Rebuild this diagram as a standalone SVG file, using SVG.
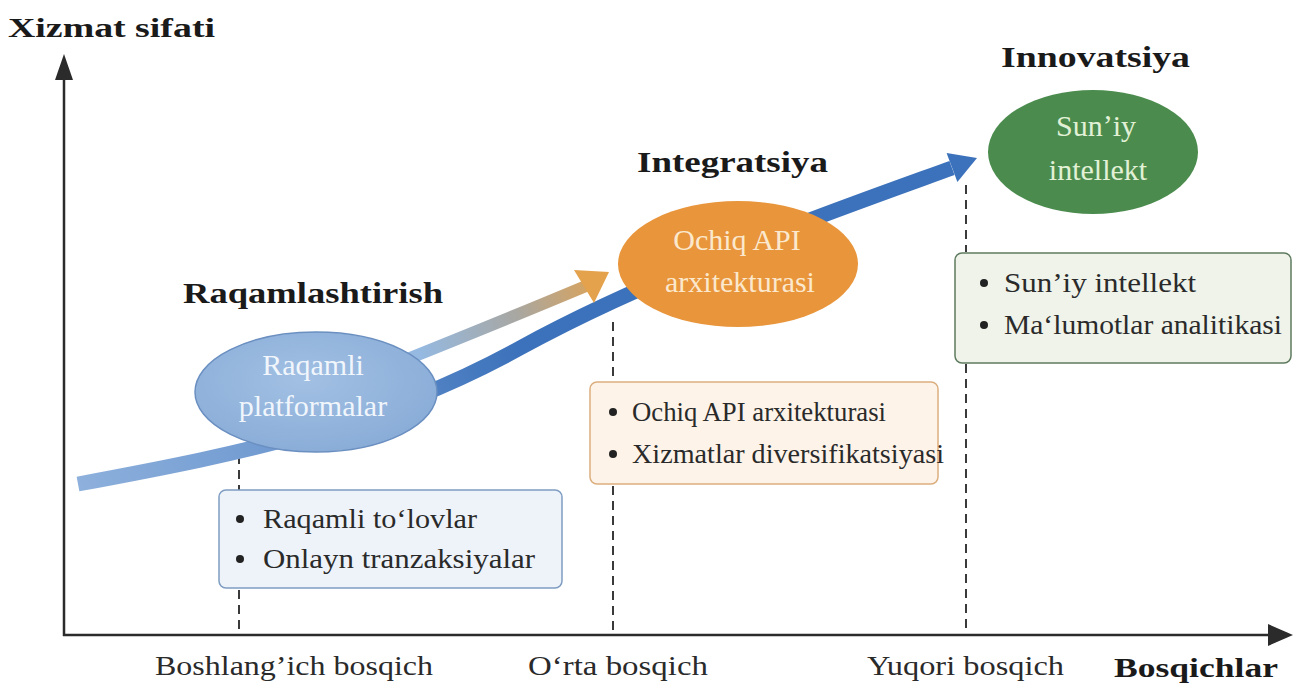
<svg xmlns="http://www.w3.org/2000/svg" width="1294" height="686" viewBox="0 0 1294 686">
  <style>
    .title { font-family: "Liberation Serif", "Times New Roman", Tinos, "Noto Serif", serif; font-weight: bold; fill: #1a1a1a; }
    .tick { font-family: "Liberation Serif", "Times New Roman", Tinos, "Noto Serif", serif; font-size: 28px; fill: #2a2a2a; }
    .item { font-family: "Liberation Serif", "Times New Roman", Tinos, "Noto Serif", serif; font-size: 27px; fill: #2a2a2a; }
    .etext { font-family: "Liberation Serif", "Times New Roman", Tinos, "Noto Serif", serif; font-size: 30px; text-anchor: middle; }
    .axis { stroke: #2b2b2b; stroke-width: 2.5; fill: none; }
    .dash { stroke: #3a3a3a; stroke-width: 2; stroke-dasharray: 9 6; fill: none; }
    .bullet { fill: #222; }
  </style>
  <defs>
    <linearGradient id="gMain" gradientUnits="userSpaceOnUse" x1="78" y1="480" x2="520" y2="350">
      <stop offset="0" stop-color="#8db0dc"/>
      <stop offset="0.45" stop-color="#6f99d0"/>
      <stop offset="1" stop-color="#3c72bb"/>
    </linearGradient>
    <linearGradient id="gSec" gradientUnits="userSpaceOnUse" x1="420" y1="350" x2="610" y2="272">
      <stop offset="0" stop-color="#95b9e0"/>
      <stop offset="0.5" stop-color="#a8a7a2"/>
      <stop offset="1" stop-color="#e4a24c"/>
    </linearGradient>
    <radialGradient id="gE1" cx="0.45" cy="0.4" r="0.7">
      <stop offset="0" stop-color="#a2c0e3"/>
      <stop offset="1" stop-color="#86aad6"/>
    </radialGradient>
  </defs>

  <rect width="1294" height="686" fill="#ffffff"/>

  <!-- axes -->
  <g id="axes">
    <line class="axis" x1="64" y1="72" x2="64" y2="636"/>
    <line class="axis" x1="63" y1="635" x2="1275" y2="635"/>
    <polygon points="64,54 55,80 73,80" fill="#2b2b2b"/>
    <polygon points="1293,635 1268,624 1268,646" fill="#2b2b2b"/>
    <text class="title" x="8" y="37" font-size="28" textLength="207" lengthAdjust="spacingAndGlyphs">Xizmat sifati</text>
    <text class="title" x="1114" y="677" font-size="28" textLength="164" lengthAdjust="spacingAndGlyphs">Bosqichlar</text>
    <text class="tick" x="155" y="675" textLength="278" lengthAdjust="spacingAndGlyphs">Boshlangʼich bosqich</text>
    <text class="tick" x="528" y="675" textLength="180" lengthAdjust="spacingAndGlyphs">Oʻrta bosqich</text>
    <text class="tick" x="867" y="675" textLength="197" lengthAdjust="spacingAndGlyphs">Yuqori bosqich</text>
  </g>

  <!-- connectors -->
  <g id="connectors">
    <line class="dash" x1="239" y1="455" x2="239" y2="490"/>
    <line class="dash" x1="239" y1="590" x2="239" y2="633"/>
    <line class="dash" x1="613" y1="322" x2="613" y2="382"/>
    <line class="dash" x1="613" y1="486" x2="613" y2="633"/>
    <line class="dash" x1="966" y1="185" x2="966" y2="252"/>
    <line class="dash" x1="966" y1="364" x2="966" y2="633"/>
    <path d="M78,484 C 250,452 380,425 520,348 S 850,205 952,168" fill="none" stroke="url(#gMain)" stroke-width="15"/>
    <polygon points="977,158 946.6,153 957.4,182" fill="#3c72bb"/>
    <path d="M395,364 Q 500,322 586,286" fill="none" stroke="url(#gSec)" stroke-width="12"/>
    <polygon points="609,272 574,270 594,303" fill="#e4a24c"/>
  </g>

  <!-- node 1 -->
  <g id="node-raqamli">
    <ellipse cx="316" cy="392" rx="121" ry="60" fill="url(#gE1)" stroke="#6a8fc0" stroke-width="1.5"/>
    <text class="etext" x="313" y="375" fill="#f1f6fc">Raqamli</text>
    <text class="etext" x="313" y="416" fill="#f1f6fc">platformalar</text>
  </g>
  <g id="label-raqamlashtirish">
    <text class="title" x="183" y="303" font-size="29" textLength="260" lengthAdjust="spacingAndGlyphs">Raqamlashtirish</text>
  </g>

  <!-- node 2 -->
  <g id="node-api">
    <ellipse cx="738" cy="264" rx="120" ry="63" fill="#e8953b"/>
    <text class="etext" x="737" y="250" fill="#fbe8cd">Ochiq API</text>
    <text class="etext" x="740" y="292" fill="#fbe8cd">arxitekturasi</text>
  </g>
  <g id="label-integratsiya">
    <text class="title" x="637" y="172" font-size="29" textLength="191" lengthAdjust="spacingAndGlyphs">Integratsiya</text>
  </g>

  <!-- node 3 -->
  <g id="node-ai">
    <ellipse cx="1093" cy="152" rx="105" ry="62" fill="#4b8c4e"/>
    <text class="etext" x="1096" y="136" fill="#e2f1d6">Sunʼiy</text>
    <text class="etext" x="1098" y="180" fill="#e2f1d6">intellekt</text>
  </g>
  <g id="label-innovatsiya">
    <text class="title" x="1001" y="67" font-size="29" textLength="189" lengthAdjust="spacingAndGlyphs">Innovatsiya</text>
  </g>

  <!-- box 1 -->
  <g id="box-boshlangich">
    <rect x="219" y="490" width="343" height="98" rx="7" fill="#eef3f9" stroke="#7f9dc2" stroke-width="1.5"/>
    <circle class="bullet" cx="240" cy="519" r="4"/>
    <text class="item" x="263" y="528" textLength="214" lengthAdjust="spacingAndGlyphs">Raqamli toʻlovlar</text>
    <circle class="bullet" cx="240" cy="559" r="4"/>
    <text class="item" x="263" y="568" textLength="272" lengthAdjust="spacingAndGlyphs">Onlayn tranzaksiyalar</text>
  </g>

  <!-- box 2 -->
  <g id="box-orta">
    <rect x="590" y="382" width="348" height="102" rx="7" fill="#fdf3e9" stroke="#dcae7e" stroke-width="1.5"/>
    <circle class="bullet" cx="613" cy="412" r="4"/>
    <text class="item" x="632" y="421" textLength="254" lengthAdjust="spacingAndGlyphs">Ochiq API arxitekturasi</text>
    <circle class="bullet" cx="613" cy="454" r="4"/>
    <text class="item" x="632" y="463" textLength="312" lengthAdjust="spacingAndGlyphs">Xizmatlar diversifikatsiyasi</text>
  </g>

  <!-- box 3 -->
  <g id="box-yuqori">
    <rect x="955" y="253" width="336" height="110" rx="7" fill="#eff3ea" stroke="#5f7b5f" stroke-width="1.5"/>
    <circle class="bullet" cx="984" cy="283" r="4"/>
    <text class="item" x="1004" y="292" textLength="192" lengthAdjust="spacingAndGlyphs">Sunʼiy intellekt</text>
    <circle class="bullet" cx="984" cy="325" r="4"/>
    <text class="item" x="1004" y="334" textLength="278" lengthAdjust="spacingAndGlyphs">Maʻlumotlar analitikasi</text>
  </g>
</svg>
